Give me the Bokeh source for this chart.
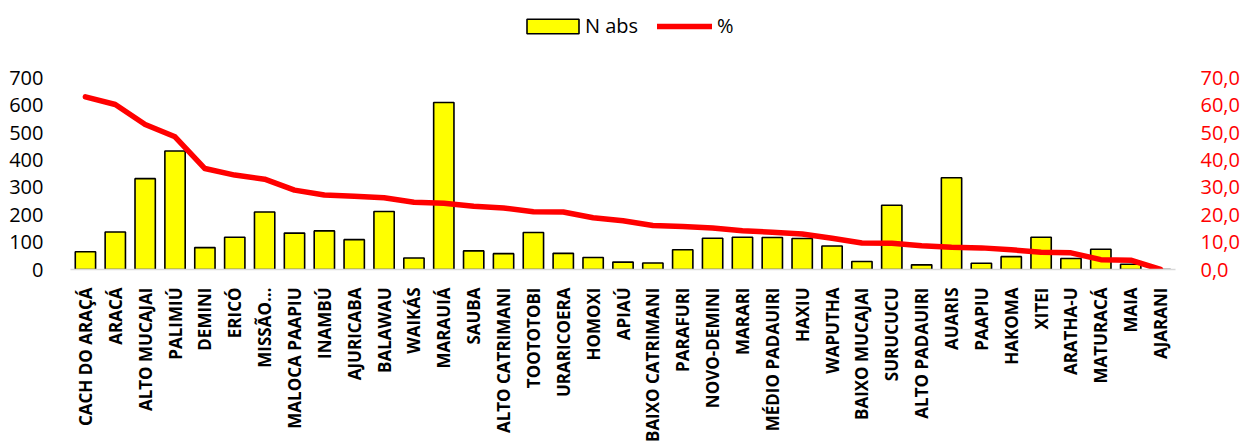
from bokeh.plotting import figure
from bokeh.models import (FactorRange, Range1d, LinearAxis, FixedTicker, Legend, LegendItem,
                          CustomJSTickFormatter, ColumnDataSource)
from bokeh.embed import file_html
from bokeh.resources import INLINE
import math

categories = ["CACH DO ARAÇÁ", "ARACÁ", "ALTO MUCAJAI", "PALIMIÚ", "DEMINI", "ERICÓ", "MISSÃO…",
              "MALOCA PAAPIU", "INAMBÚ", "AJURICABA", "BALAWAU", "WAIKÁS", "MARAUIÁ", "SAUBA",
              "ALTO CATRIMANI", "TOOTOTOBI", "URARICOERA", "HOMOXI", "APIAÚ", "BAIXO CATRIMANI",
              "PARAFURI", "NOVO-DEMINI", "MARARI", "MÉDIO PADAUIRI", "HAXIU", "WAPUTHA",
              "BAIXO MUCAJAI", "SURUCUCU", "ALTO PADAUIRI", "AUARIS", "PAAPIU", "HAKOMA", "XITEI",
              "ARATHA-U", "MATURACÁ", "MAIA", "AJARANI"]
n_abs = [65, 137, 332, 433, 80, 118, 210, 133, 141, 109, 212, 42, 610, 68, 58, 135, 59, 44, 27,
         24, 72, 114, 118, 117, 113, 86, 29, 235, 17, 335, 23, 47, 118, 40, 74, 19, 0]
pct = [63.1, 60.3, 53.0, 48.5, 36.9, 34.5, 33.0, 29.0, 27.2, 26.8, 26.2, 24.6, 24.2, 23.1, 22.5,
       21.1, 21.0, 18.9, 17.8, 16.1, 15.7, 15.2, 14.2, 13.6, 13.0, 11.4, 9.7, 9.6, 8.7, 8.1, 7.9,
       7.2, 6.3, 6.1, 3.6, 3.4, 0.0]
left_ticks = [0, 100, 200, 300, 400, 500, 600, 700]
right_ticks = [0, 10, 20, 30, 40, 50, 60, 70]

# frame spans from the top of the canvas down to the axis; the 0-700 scale covers its lower 193 px
frame_h = 445 - 174
scale_top = 700 * frame_h / 193.0

src = ColumnDataSource(dict(cat=categories, n=n_abs, pct=pct))

p = figure(width=1244, height=445, x_range=FactorRange(factors=categories),
           y_range=Range1d(0, scale_top), output_backend="svg", toolbar_location=None,
           min_border_left=70, min_border_right=69, min_border_top=0, min_border_bottom=174)
p.extra_y_ranges = {"pct": Range1d(0, scale_top / 10.0)}
p.outline_line_color = None
p.xgrid.visible = False
p.ygrid.visible = False
p.background_fill_color = "white"

bars = p.vbar(x="cat", top="n", width=0.68, source=src, fill_color="#FFFF00",
              line_color="black", line_width=1.6)
line = p.line(x="cat", y="pct", source=src, y_range_name="pct", line_color="#FF0000",
              line_width=5.5, line_cap="round", line_join="round")

font = "Open Sans"
# left axis
ya = p.yaxis[0]
ya.ticker = FixedTicker(ticks=left_ticks)
ya.axis_line_color = None
ya.major_tick_line_color = None
ya.minor_tick_line_color = None
ya.major_label_text_font = font
ya.major_label_text_font_size = "20px"
ya.major_label_text_color = "black"
ya.major_label_standoff = 21

# right axis
ra = LinearAxis(y_range_name="pct", ticker=FixedTicker(ticks=right_ticks),
                formatter=CustomJSTickFormatter(code="return tick.toFixed(1).replace('.', ',');"))
ra.axis_line_color = None
ra.major_tick_line_color = None
ra.minor_tick_line_color = None
ra.major_label_text_font = font
ra.major_label_text_font_size = "20px"
ra.major_label_text_color = "#FF0000"
ra.major_label_standoff = 19
p.add_layout(ra, "right")

# x axis
xa = p.xaxis[0]
xa.major_label_orientation = math.pi / 2
xa.axis_line_color = "#D9D9D9"
xa.axis_line_width = 1.5
xa.major_tick_line_color = None
xa.minor_tick_line_color = None
xa.major_label_text_font = font
xa.major_label_text_font_style = "bold"
xa.major_label_text_font_size = "17px"
xa.major_label_text_color = "black"
xa.major_label_standoff = 12

common = dict(orientation="horizontal", margin=0, padding=0, border_line_color=None,
              background_fill_alpha=0, label_text_font=font, label_text_font_size="20px",
              label_text_color="black")
legend_bar = Legend(items=[LegendItem(label="N abs", renderers=[bars])],
                    location=(450, 230), glyph_width=65, glyph_height=18, label_standoff=0,
                    **common)
legend_line = Legend(items=[LegendItem(label="%", renderers=[line])],
                     location=(587, 230), glyph_width=55, glyph_height=18, label_standoff=5,
                     **common)
p.add_layout(legend_bar)
p.add_layout(legend_line)

open("out.html", "w").write(file_html(p, INLINE))
